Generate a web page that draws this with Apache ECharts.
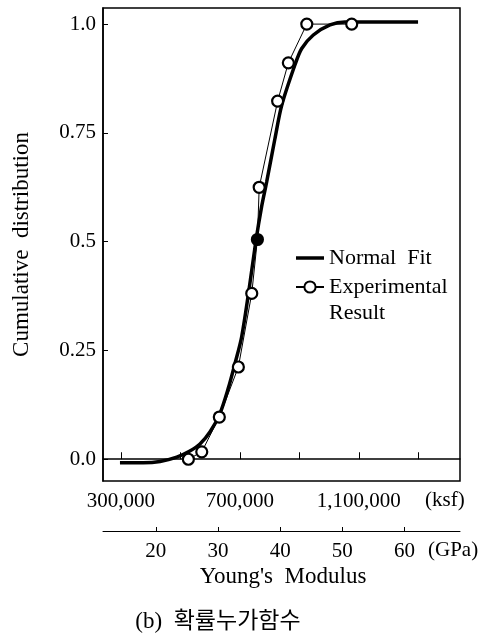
<!DOCTYPE html>
<html><head><meta charset="utf-8">
<script src="https://cdn.jsdelivr.net/npm/echarts@6/dist/echarts.min.js"></script>
<style>html,body{margin:0;padding:0;background:#fff}#c{width:498px;height:635px}</style>
</head><body><div id="c"></div>
<script>
// Normal fit curve (ksf, cumulative probability)
const fitX = [297000, 375000, 432000, 488000, 532000, 566000, 600000, 633000, 661000, 684000, 706000, 729000, 754000, 773000, 790000, 818000, 841000, 885000, 908000, 947000, 1003000, 1053000, 1299000];
const fitY = [-0.008, -0.008, -0.005, 0.005, 0.019, 0.035, 0.063, 0.105, 0.163, 0.221, 0.281, 0.381, 0.502, 0.58, 0.637, 0.737, 0.814, 0.906, 0.944, 0.975, 0.998, 1.005, 1.005];
// Experimental result points
const expX = [527000, 572000, 631000, 695000, 740000, 759000, 765000, 827000, 863000, 925000, 1076000];
const expY = [0.0, 0.017, 0.097, 0.212, 0.381, 0.505, 0.625, 0.823, 0.911, 1.0, 1.0];
const expFilled = [false, false, false, false, false, true, false, false, false, false, false];
// Axis ticks
const ksfTicks = [300000, 500000, 700000, 900000, 1100000, 1300000];
const ksfLabels = [300000, 700000, 1100000];
const gpaTicks = [20, 30, 40, 50, 60];
const yTicks = [0, 0.25, 0.5, 0.75, 1.0];
const yLabelText = ['0.0', '0.25', '0.5', '0.75', '1.0'];

const KSF_TO_GPA = 47.88e-6;
const ksfMin = 240000, ksfMax = 1440000;
const SERIF = "'Liberation Serif', 'Times New Roman', serif";

const chart = echarts.init(document.getElementById('c'), null, {renderer: 'canvas'});
const fitData = fitX.map((x, i) => [x, fitY[i]]);
const expData = expX.map((x, i) => expFilled[i]
  ? {value: [x, expY[i]], itemStyle: {color: '#000'}}
  : [x, expY[i]]);

chart.setOption({
  animation: false,
  backgroundColor: '#fff',
  grid: {left: 103, right: 38, top: 8, bottom: 154, show: true, borderColor: '#000', borderWidth: 1.5,
    containLabel: false, outerBoundsMode: 'none'},
  legend: {
    orient: 'vertical', left: 295, top: 245, padding: 0, itemWidth: 28, itemHeight: 14, itemGap: -23,
    data: [
      {name: 'Normal Fit', icon: 'path://M0,0 L28,0 L28,3.5 L0,3.5 Z', itemStyle: {color: '#000', borderWidth: 0}},
      {name: 'Experimental Result'}
    ],
    formatter: n => n === 'Experimental Result' ? '\nExperimental\nResult' : 'Normal  Fit',
    textStyle: {fontFamily: SERIF, fontSize: 22, color: '#000', lineHeight: 26}
  },
  xAxis: [{
    type: 'value', min: ksfMin, max: ksfMax, position: 'bottom',
    axisLine: {show: true, lineStyle: {color: '#000', width: 1.5}},
    axisTick: {show: true, inside: true, length: 7, lineStyle: {color: '#000'}, customValues: ksfTicks},
    axisLabel: {customValues: ksfLabels, margin: 10, color: '#000', fontFamily: SERIF, fontSize: 21,
      formatter: v => Number(v).toLocaleString('en-US')},
    splitLine: {show: false}
  }, {
    type: 'value', min: ksfMin * KSF_TO_GPA, max: ksfMax * KSF_TO_GPA, position: 'bottom', offset: 50,
    axisLine: {show: true, lineStyle: {color: '#000', width: 1}},
    axisTick: {show: true, inside: true, length: 4, lineStyle: {color: '#000'}, customValues: gpaTicks},
    axisLabel: {customValues: gpaTicks, margin: 10, color: '#000', fontFamily: SERIF, fontSize: 21},
    splitLine: {show: false}
  }],
  yAxis: {
    type: 'value', min: -0.05, max: 1.037,
    axisLine: {show: true, lineStyle: {color: '#000', width: 1.5}},
    axisTick: {show: true, inside: true, length: 5, lineStyle: {color: '#000'}, customValues: yTicks},
    axisLabel: {customValues: yTicks, margin: 7, color: '#000', fontFamily: SERIF, fontSize: 21,
      formatter: v => yLabelText[yTicks.indexOf(v)] !== undefined ? yLabelText[yTicks.indexOf(v)] : String(v)},
    splitLine: {show: false},
    name: 'Cumulative  distribution', nameLocation: 'middle', nameGap: 70, nameRotate: 90,
    nameTextStyle: {fontFamily: SERIF, fontSize: 23, color: '#000'}
  },
  series: [{
    name: 'Normal Fit', type: 'line', xAxisIndex: 0, data: fitData, smooth: 0.3,
    showSymbol: false, symbol: 'none', z: 2,
    lineStyle: {color: '#000', width: 3.5}, itemStyle: {color: '#000'}
  }, {
    name: 'Experimental Result', type: 'line', xAxisIndex: 0, data: expData,
    symbol: 'circle', symbolSize: 11, z: 3,
    lineStyle: {color: '#000', width: 1},
    itemStyle: {color: '#fff', borderColor: '#000', borderWidth: 2.2}
  }],
  graphic: [{
    type: 'text', x: 425, y: 500,
    style: {text: '(ksf)', fontFamily: SERIF, fontSize: 21, fill: '#000', align: 'left', verticalAlign: 'middle'}
  }, {
    type: 'text', x: 428, y: 550,
    style: {text: '(GPa)', fontFamily: SERIF, fontSize: 21, fill: '#000', align: 'left', verticalAlign: 'middle'}
  }, {
    type: 'text', x: 283, y: 577,
    style: {text: "Young's  Modulus", fontFamily: SERIF, fontSize: 23, fill: '#000', align: 'center', verticalAlign: 'middle'}
  }, {
    type: 'text', x: 218, y: 622,
    style: {text: '(b)  확률누가함수', fontFamily: "'Liberation Serif', 'Noto Sans CJK KR', serif", fontSize: 23, fill: '#000', align: 'center', verticalAlign: 'middle'}
  }]
});
</script></body></html>
